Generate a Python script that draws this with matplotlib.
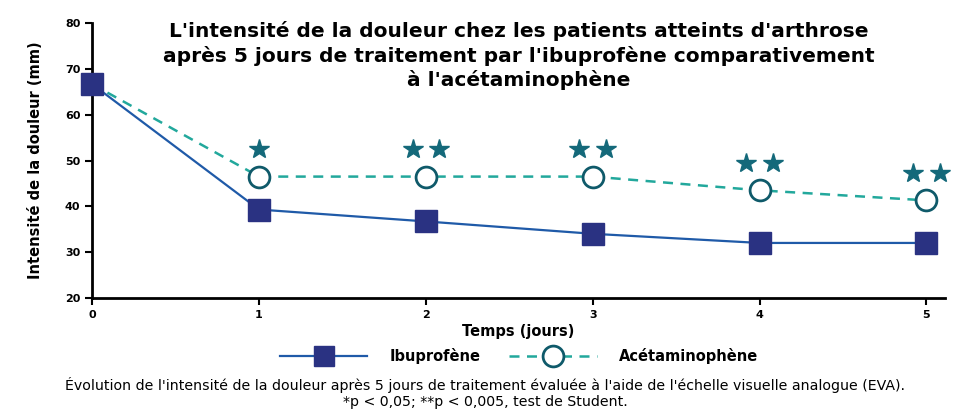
import numpy as np
import matplotlib
matplotlib.use("Agg")
from matplotlib import pyplot as plt
from matplotlib.lines import Line2D

# data
days = [0, 1, 2, 3, 4, 5]
ibuprofene = [66.7, 39.3, 36.7, 34.0, 32.0, 32.0]
acetaminophene = [66.7, 46.5, 46.5, 46.5, 43.5, 41.3]
signif = ['', '*', '**', '**', '**', '**']

title = ("L'intensité de la douleur chez les patients atteints d'arthrose\n"
         "après 5 jours de traitement par l'ibuprofène comparativement\n"
         "à l'acétaminophène")
caption = ("Évolution de l'intensité de la douleur après 5 jours de traitement évaluée à l'aide de l'échelle visuelle analogue (EVA).\n"
           "*p < 0,05; **p < 0,005, test de Student.")

plt.rcParams['font.family'] = ['DejaVu Sans']

ibu_line = '#1f5aa8'
ibu_marker = '#2a3282'
acet_line = '#22a89c'
acet_edge = '#0f5a6a'
star_col = '#14697a'

fig = plt.figure(figsize=(9.7, 4.16), dpi=100)
ax = fig.add_axes([0.095, 0.284, 0.879, 0.66])

# the day-0 circle sits under the square, so only markers from day 1 on
ax.plot(days, acetaminophene, color=acet_line, lw=1.8, ls=(0, (4, 3)),
        marker='o', ms=15, mfc='white', mec=acet_edge, mew=2, zorder=3,
        markevery=list(range(1, len(days))), clip_on=False)
ax.plot(days, ibuprofene, color=ibu_line, lw=1.6,
        marker='s', ms=15.5, mfc=ibu_marker, mec=ibu_marker, zorder=4,
        clip_on=False)

# significance stars above the acetaminophen points
for d, v, s in zip(days, acetaminophene, signif):
    n = len(s)
    if n == 0:
        continue
    offs = [0.0] if n == 1 else [-0.08, 0.08]
    for o in offs:
        ax.plot(d + o, v + 6, marker='*', ms=15, color=star_col,
                mec=star_col, ls='none', zorder=5, clip_on=False)

ax.set_xlim(0, 5.11)
ax.set_ylim(20, 80)
ax.set_xticks(days)
ax.set_yticks(range(20, 81, 10))
ax.spines['top'].set_visible(False)
ax.spines['right'].set_visible(False)
ax.spines['left'].set_linewidth(2)
ax.spines['bottom'].set_linewidth(2)
ax.tick_params(axis='both', width=1.5, length=5, labelsize=8)
for lab in ax.get_xticklabels() + ax.get_yticklabels():
    lab.set_fontweight('bold')

ax.set_xlabel('Temps (jours)', fontsize=10.5, fontweight='bold', labelpad=3)
ax.set_ylabel('Intensité de la douleur (mm)', fontsize=10.5, fontweight='bold', labelpad=16)

fig.text(0.535, 0.95, title, ha='center', va='top', fontsize=14.5,
         fontweight='bold', linespacing=1.3)

handles = [
    Line2D([], [], color=ibu_line, lw=1.6, marker='s', ms=15,
           mfc=ibu_marker, mec=ibu_marker),
    Line2D([], [], color=acet_line, lw=1.8, ls=(0, (4, 3)), marker='o', ms=15,
           mfc='white', mec=acet_edge, mew=2),
]
leg = fig.legend(handles, ['Ibuprofène', 'Acétaminophène'], loc='center',
                 bbox_to_anchor=(0.535, 0.145), ncol=2, frameon=False,
                 handlelength=6.0, handletextpad=1.5, columnspacing=2.0,
                 prop={'size': 10.5, 'weight': 'bold'})

fig.text(0.5, 0.055, caption, ha='center', va='center', fontsize=10.2,
         linespacing=1.2)

plt.savefig('out.png', dpi=100)
